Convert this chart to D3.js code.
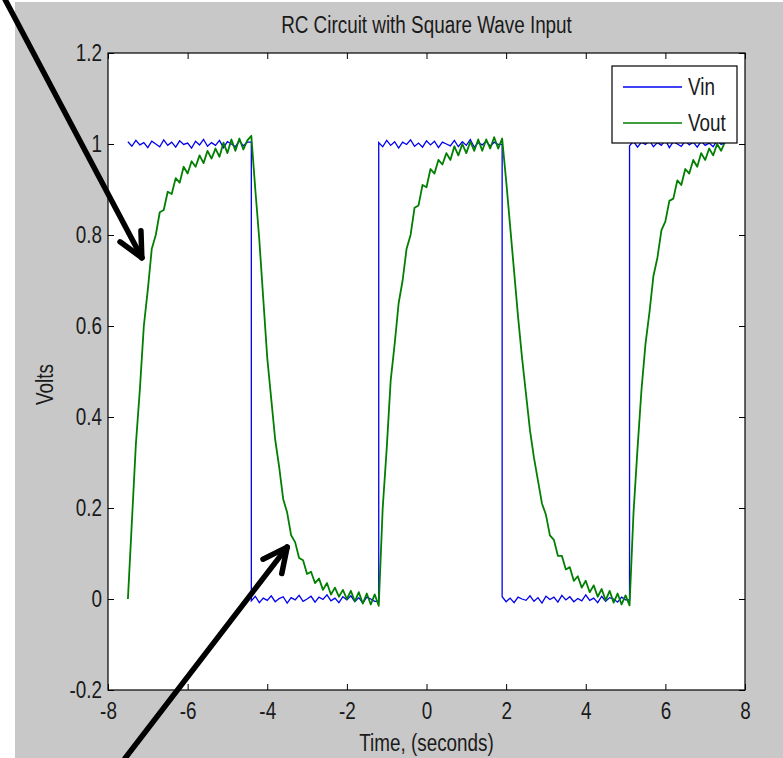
<!DOCTYPE html>
<html>
<head>
<meta charset="utf-8">
<script src="https://cdn.jsdelivr.net/npm/d3@7"></script>
<style>
    body { margin: 0; background: #fff; }
    svg text { font-family: "Liberation Sans", Arial, sans-serif; font-size: 23px; fill: #1a1a1a; }
</style>
</head>
<body>
<div id="chart"></div>
<script>
// sampled every 0.1 s starting at -7.5 s
var vin = [
    1.005, 0.995, 1.008, 0.998, 1.003, 0.992, 1.006, 1.0, 0.994, 1.009, 0.997, 1.004, 0.993, 1.007, 0.999, 1.002,
    0.991, 1.006, 0.998, 1.01, 0.995, 1.003, 0.997, 1.008, 0.992, 1.005, 1.0, 0.994, 1.007, 0.996, 1.004,
    -0.004, 0.006, -0.008, 0.002, -0.003, 0.007, -0.006, 0.001, 0.005, -0.009, 0.003, -0.002, 0.008, -0.005, 0.0, 0.006,
    -0.007, 0.004, -0.001, 0.009, -0.004, 0.002, -0.008, 0.005, -0.002, 0.007, -0.006, 0.003, -0.009, 0.004, 0.0, -0.005,
    1.003, 0.994, 1.008, 0.997, 1.005, 0.991, 1.004, 0.999, 1.009, 0.995, 1.002, 0.993, 1.007, 0.998, 1.006, 0.992,
    1.004, 1.0, 0.996, 1.008, 0.994, 1.005, 0.997, 1.01, 0.993, 1.003, 0.998, 1.006, 0.995, 1.004, 0.999,
    0.005, -0.006, 0.002, -0.008, 0.004, 0.0, -0.003, 0.007, -0.005, 0.003, -0.009, 0.006, -0.001, 0.004, -0.007, 0.008,
    -0.002, 0.005, -0.006, 0.001, -0.004, 0.009, -0.003, 0.002, -0.008, 0.006, -0.005, 0.003, 0.0, -0.007, 0.004, -0.002,
    0.996, 1.006, 0.993, 1.004, 0.999, 1.008, 0.994, 1.003, 0.997, 1.009, 0.992, 1.005, 1.0, 0.995, 1.007, 0.998,
    1.004, 0.993, 1.006, 0.997, 1.002, 0.994, 1.008, 0.999, 1.003
];

var vout = [
    0.00, 0.17, 0.34, 0.46, 0.60, 0.68, 0.77, 0.80, 0.85, 0.855, 0.895, 0.89, 0.925, 0.915, 0.95, 0.935,
    0.962, 0.95, 0.975, 0.958, 0.985, 0.968, 0.99, 0.972, 1.003, 0.98, 1.01, 0.985, 1.012, 0.988, 1.008,
    1.018,
    0.90, 0.79, 0.66, 0.53, 0.44, 0.35, 0.29, 0.22, 0.19, 0.14, 0.125, 0.09, 0.085, 0.055, 0.06, 0.035,
    0.045, 0.02, 0.035, 0.01, 0.025, 0.005, 0.02, 0.0, 0.018, -0.005, 0.015, -0.01, 0.012, -0.012, 0.01,
    -0.015,
    0.20, 0.33, 0.48, 0.56, 0.65, 0.70, 0.77, 0.80, 0.86, 0.865, 0.91, 0.905, 0.945, 0.935, 0.965, 0.955,
    0.98, 0.965, 0.995, 0.975, 1.0, 0.98, 1.005, 0.985, 1.01, 0.985, 1.01, 0.99, 1.015, 0.99,
    1.012,
    0.92, 0.82, 0.72, 0.62, 0.53, 0.45, 0.37, 0.31, 0.26, 0.21, 0.185, 0.14, 0.13, 0.095, 0.095, 0.065,
    0.07, 0.04, 0.05, 0.025, 0.04, 0.015, 0.03, 0.005, 0.022, -0.003, 0.018, -0.008, 0.012, -0.012, 0.008,
    -0.014,
    0.19, 0.33, 0.46, 0.56, 0.63, 0.71, 0.75, 0.81, 0.83, 0.875, 0.88, 0.92, 0.91, 0.945, 0.935, 0.965,
    0.95, 0.98, 0.965, 0.99, 0.975, 1.0, 0.985, 1.005
];

var tStart = -7.5, tStep = 0.1;
var xTicks = [-8, -6, -4, -2, 0, 2, 4, 6, 8];
var yTicks = [-0.2, 0, 0.2, 0.4, 0.6, 0.8, 1, 1.2];
var yTickLabels = ["-0.2", "0", "0.2", "0.4", "0.6", "0.8", "1", "1.2"];
var seriesNames = ["Vin", "Vout"];
var seriesColors = ["#0000f0", "#007f00"];

// annotation arrows in data units: [tail, tip]
var arrows = [
    [[-10.6, 1.32], [-7.15, 0.75]],
    [[-7.57, -0.35], [-3.5, 0.114]]
];

var W = 783, H = 758;
var margin = { top: 53, right: 38, bottom: 68, left: 108 },
    width = W - margin.left - margin.right,
    height = H - margin.top - margin.bottom;

var svg = d3.select("#chart")
    .append("svg")
    .attr("width", W)
    .attr("height", H);

// figure background
svg.append("rect")
    .attr("x", 15).attr("y", 2)
    .attr("width", W - 15).attr("height", H - 2)
    .attr("fill", "#c8c8c8");

var g = svg.append("g")
    .attr("transform", "translate(" + margin.left + "," + margin.top + ")");

g.append("rect")
    .attr("width", width).attr("height", height)
    .attr("fill", "#fff");

var x = d3.scaleLinear().domain([-8, 8]).range([0, width]);
var y = d3.scaleLinear().domain([-0.2, 1.2]).range([height, 0]);

var time = vin.map((d, i) => tStart + tStep * i);

// axes, ticks pointing inside on all four sides
function tidy(sel) {
    sel.select(".domain").remove();
    sel.selectAll(".tick line").attr("stroke", "#000");
}

g.append("g")
    .attr("transform", "translate(0," + height + ")")
    .call(d3.axisBottom(x).tickValues(xTicks).tickFormat(d => String(d))
        .tickSizeInner(-6).tickSizeOuter(0).tickPadding(13))
    .call(tidy);

g.append("g")
    .call(d3.axisTop(x).tickValues(xTicks).tickFormat("")
        .tickSizeInner(-6).tickSizeOuter(0))
    .call(tidy);

g.append("g")
    .call(d3.axisLeft(y).tickValues(yTicks).tickFormat((d, i) => yTickLabels[i])
        .tickSizeInner(-6).tickSizeOuter(0).tickPadding(6))
    .call(tidy);

g.append("g")
    .attr("transform", "translate(" + width + ",0)")
    .call(d3.axisRight(y).tickValues(yTicks).tickFormat("")
        .tickSizeInner(-6).tickSizeOuter(0))
    .call(tidy);

// Vin: linear between samples, vertical at the switching edges
var vinPts = [];
vin.forEach((v, i) => {
    vinPts.push([time[i], v]);
    if (i < vin.length - 1 && Math.abs(vin[i + 1] - v) > 0.5) {
        vinPts.push([time[i + 1], v]);
    }
});

var line = d3.line()
    .x(d => x(d[0]))
    .y(d => y(d[1]));

g.append("path")
    .datum(vinPts)
    .attr("d", line)
    .attr("fill", "none")
    .attr("stroke", seriesColors[0])
    .attr("stroke-width", 1.3);

g.append("path")
    .datum(vout.map((v, i) => [time[i], v]))
    .attr("d", line)
    .attr("fill", "none")
    .attr("stroke", seriesColors[1])
    .attr("stroke-width", 1.8)
    .attr("stroke-linejoin", "round");

// axes box
g.append("rect")
    .attr("width", width).attr("height", height)
    .attr("fill", "none")
    .attr("stroke", "#000")
    .attr("stroke-width", 1.2);

// legend
var legend = g.append("g")
    .attr("transform", "translate(" + (width - 133) + ",13)");

legend.append("rect")
    .attr("width", 125).attr("height", 77)
    .attr("fill", "#fff")
    .attr("stroke", "#000")
    .attr("stroke-width", 1.2);

seriesNames.forEach((name, i) => {
    var ly = 21 + i * 36;
    legend.append("line")
        .attr("x1", 11).attr("x2", 70)
        .attr("y1", ly).attr("y2", ly)
        .attr("stroke", seriesColors[i])
        .attr("stroke-width", 1.4);
    legend.append("text")
        .attr("x", 76).attr("y", ly)
        .attr("dy", "0.36em")
        .text(name);
});

// titles
svg.append("text")
    .attr("x", margin.left + width / 2)
    .attr("y", 33)
    .attr("text-anchor", "middle")
    .text("RC Circuit with Square Wave Input");

svg.append("text")
    .attr("x", margin.left + width / 2)
    .attr("y", 751)
    .attr("text-anchor", "middle")
    .text("Time, (seconds)");

svg.append("text")
    .attr("transform", "translate(53," + (margin.top + height / 2 + 13) + ") rotate(-90)")
    .attr("text-anchor", "middle")
    .text("Volts");

// squeeze every label sideways, the original font is a narrow one
svg.selectAll("text").each(function () {
    var len = this.getComputedTextLength();
    if (len > 0) {
        d3.select(this)
            .attr("textLength", len * 0.82)
            .attr("lengthAdjust", "spacingAndGlyphs");
    }
});

// black annotation arrows
arrows.forEach(a => {
    var x0 = x(a[0][0]), y0 = y(a[0][1]),
        x1 = x(a[1][0]), y1 = y(a[1][1]);
    var ang = Math.atan2(y0 - y1, x0 - x1);
    var head = 27, spread = 26 * Math.PI / 180;
    var ag = g.append("g")
        .attr("stroke", "#000")
        .attr("stroke-width", 5.5)
        .attr("stroke-linecap", "round")
        .attr("fill", "none");
    ag.append("line")
        .attr("x1", x0).attr("y1", y0)
        .attr("x2", x1).attr("y2", y1);
    [-1, 1].forEach(s => {
        ag.append("line")
            .attr("x1", x1).attr("y1", y1)
            .attr("x2", x1 + head * Math.cos(ang + s * spread))
            .attr("y2", y1 + head * Math.sin(ang + s * spread));
    });
});
</script>
</body>
</html>
